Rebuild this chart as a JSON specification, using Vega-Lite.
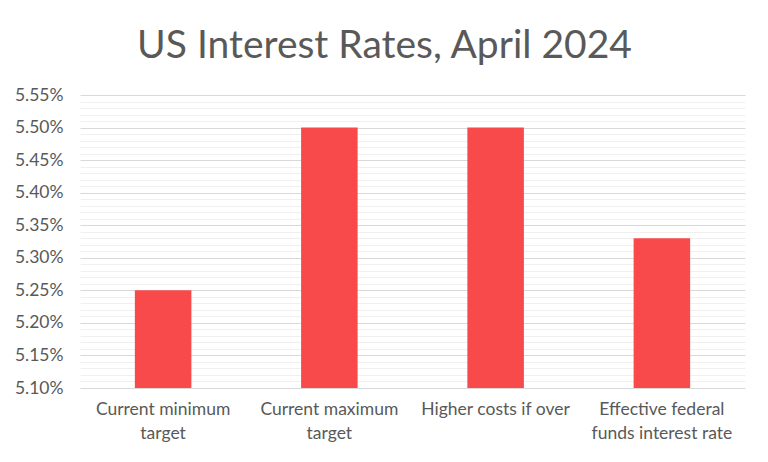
{
  "$schema": "https://vega.github.io/schema/vega-lite/v6.json",
  "autosize": {"type": "none"},
  "width": 665,
  "height": 293,
  "padding": {"left": 80, "top": 95, "right": 23, "bottom": 74},
  "background": "white",
  "title": {
    "text": "US Interest Rates, April 2024",
    "font": "Lato",
    "fontSize": 39,
    "fontWeight": "normal",
    "color": "#595959",
    "anchor": "middle",
    "dx": -28,
    "offset": 20
  },
  "data": {
    "values": [
      {"measure": "Current minimum target", "rate": 0.0525},
      {"measure": "Current maximum target", "rate": 0.055},
      {"measure": "Higher costs if over", "rate": 0.055},
      {"measure": "Effective federal funds interest rate", "rate": 0.0533}
    ]
  },
  "encoding": {
    "x": {
      "field": "measure",
      "type": "nominal",
      "sort": null,
      "scale": {"paddingInner": 0.66, "paddingOuter": 0.33},
      "axis": {
        "title": null,
        "labelAngle": 0,
        "ticks": false,
        "domain": false,
        "labelPadding": 12,
        "labelFont": "Lato",
        "labelFontSize": 17.5,
        "labelColor": "#595959",
        "labelLineHeight": 24,
        "labelBaseline": "top",
        "labelExpr": "datum.label == 'Current minimum target' ? ['Current minimum', 'target'] : datum.label == 'Current maximum target' ? ['Current maximum', 'target'] : datum.label == 'Effective federal funds interest rate' ? ['Effective federal', 'funds interest rate'] : datum.label"
      }
    }
  },
  "layer": [
    {
      "mark": {"type": "bar", "opacity": 0, "clip": true},
      "encoding": {
        "y": {
          "field": "rate",
          "type": "quantitative",
          "scale": {"domain": [0.051, 0.0555], "zero": false, "nice": false},
          "axis": {
            "title": null,
            "orient": "left",
            "values": [0.0511, 0.0512, 0.0513, 0.0514, 0.0516, 0.0517, 0.0518, 0.0519, 0.0521, 0.0522, 0.0523, 0.0524, 0.0526, 0.0527, 0.0528, 0.0529, 0.0531, 0.0532, 0.0533, 0.0534, 0.0536, 0.0537, 0.0538, 0.0539, 0.0541, 0.0542, 0.0543, 0.0544, 0.0546, 0.0547, 0.0548, 0.0549, 0.0551, 0.0552, 0.0553, 0.0554],
            "labels": false,
            "ticks": false,
            "domain": false,
            "grid": true,
            "gridColor": "#f0f0f0",
            "gridWidth": 1,
            "zindex": 0
          }
        }
      }
    },
    {
      "mark": {"type": "bar", "color": "#F84A4A", "clip": true},
      "encoding": {
        "y": {
          "field": "rate",
          "type": "quantitative",
          "scale": {"domain": [0.051, 0.0555], "zero": false, "nice": false},
          "axis": {
            "title": null,
            "orient": "left",
            "values": [0.051, 0.0515, 0.052, 0.0525, 0.053, 0.0535, 0.054, 0.0545, 0.055, 0.0555],
            "format": ".2%",
            "ticks": false,
            "domain": false,
            "labelPadding": 17,
            "labelFont": "Lato",
            "labelFontSize": 17.5,
            "labelColor": "#595959",
            "grid": true,
            "gridColor": "#d9d9d9",
            "gridWidth": 1,
            "zindex": 0
          }
        }
      }
    }
  ],
  "resolve": {"axis": {"y": "independent"}},
  "config": {
    "view": {"stroke": null}
  }
}
